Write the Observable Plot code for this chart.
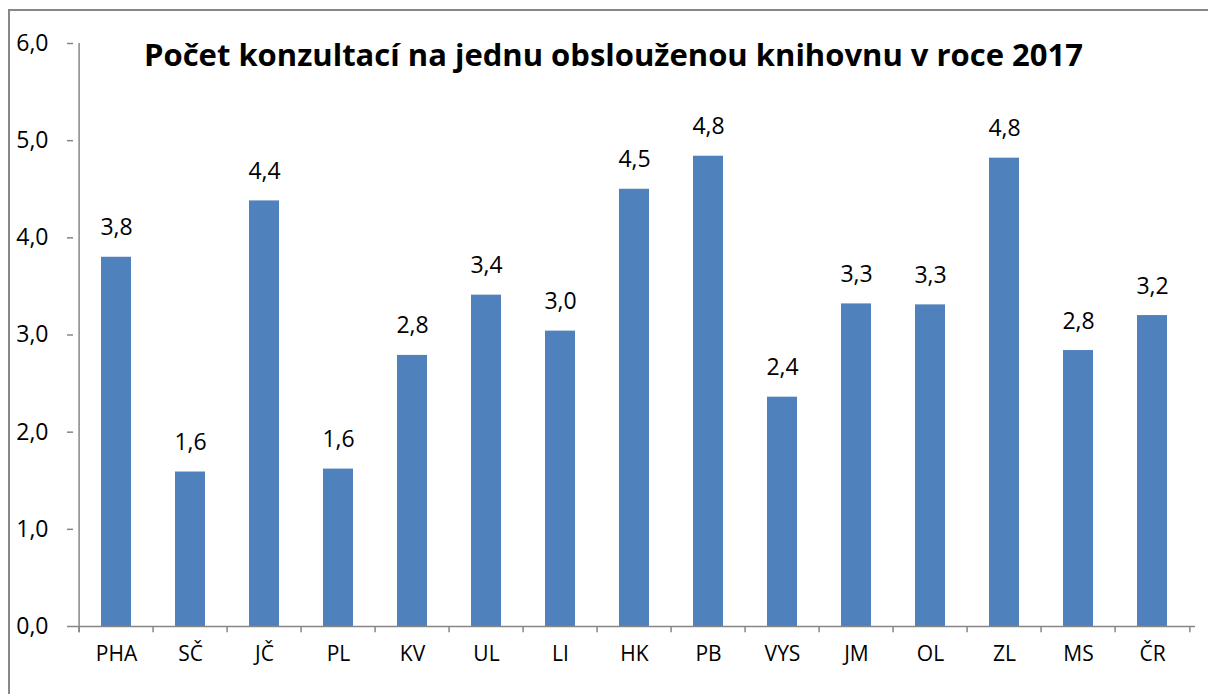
<!DOCTYPE html>
<html>
<head>
<meta charset="utf-8">
<script src="https://cdn.jsdelivr.net/npm/d3@7"></script>
<script src="https://cdn.jsdelivr.net/npm/@observablehq/plot@0.6"></script>
<style>
  html, body { margin: 0; padding: 0; background: #fff; }
  #wrap { position: relative; width: 1208px; height: 694px; overflow: hidden; }
  #border { position: absolute; left: 8px; top: 9px; width: 1300px; height: 800px; border: 2px solid #878787; box-sizing: border-box; }
  #chart { position: absolute; left: 0; top: 0; }
</style>
</head>
<body>
<div id="wrap">
  <div id="border"></div>
  <div id="chart"></div>
</div>
<script>
const title = "Počet konzultací na jednu obslouženou knihovnu v roce 2017";
const categories = ["PHA", "SČ", "JČ", "PL", "KV", "UL", "LI", "HK", "PB", "VYS", "JM", "OL", "ZL", "MS", "ČR"];
const values = [3.80, 1.59, 4.38, 1.62, 2.79, 3.41, 3.04, 4.50, 4.84, 2.36, 3.32, 3.31, 4.82, 2.84, 3.20];
const yTicks = [0, 1, 2, 3, 4, 5, 6];

const data = categories.map((c, i) => ({cat: c, value: values[i]}));
const fmt = v => v.toFixed(1).replace(".", ",");
const font = "'Open Sans', 'Liberation Sans', sans-serif";
const axisColor = "#868686";

const W = 1208, H = 694;
const mL = 73, mR = 13, mT = 43, mB = 68;
const bw = (W - mL - mR) / categories.length;

const chart = Plot.plot({
  width: W,
  height: H,
  marginLeft: mL,
  marginRight: mR,
  marginTop: mT,
  marginBottom: mB,
  style: {fontFamily: font, background: "transparent", overflow: "visible"},
  x: {type: "band", domain: categories, padding: 0, label: null},
  y: {domain: [0, 6], label: null},
  marks: [
    Plot.barY(data, {x: "cat", y: "value", fill: "#4F81BD", inset: 22, insetTop: 0, insetBottom: 0}),
    Plot.ruleY([0], {stroke: axisColor, strokeWidth: 1.5}),
    Plot.ruleX(categories, {x: d => d, y1: 0, y2: -0.065, dx: -bw / 2, stroke: axisColor, strokeWidth: 1.5}),
    Plot.ruleX([categories[categories.length - 1]], {x: d => d, y1: 0, y2: -0.065, dx: bw / 2, stroke: axisColor, strokeWidth: 1.5}),
    Plot.ruleX([categories[0]], {x: d => d, y1: -0.065, y2: 6, dx: -bw / 2, stroke: axisColor, strokeWidth: 1.5}),
    Plot.axisY({ticks: yTicks, tickFormat: fmt, tickSize: 6, tickPadding: 19, stroke: axisColor, strokeWidth: 1.5, fontSize: 23, fill: "#000", label: null}),
    Plot.axisX({tickSize: 0, tickPadding: 20, fontSize: 21, fill: "#000", label: null}),
    Plot.text(data, {x: "cat", y: "value", text: d => fmt(d.value), lineAnchor: "bottom", dy: -22, fontSize: 23, fill: "#000"}),
    Plot.text([title], {frameAnchor: "top", dy: 0, fontSize: 31, fontWeight: "bold", fill: "#000", dx: -21})
  ]
});
document.getElementById("chart").appendChild(chart);
</script>
</body>
</html>
